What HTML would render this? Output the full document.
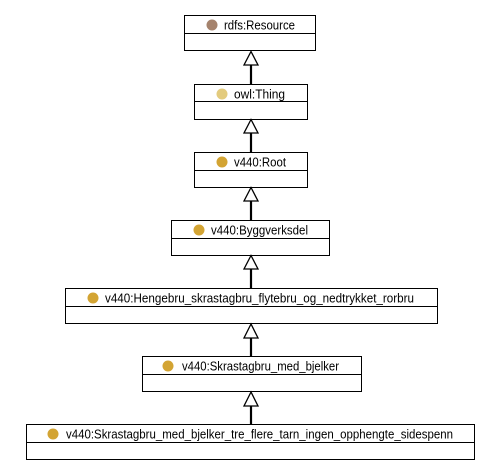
<!DOCTYPE html>
<html><head><meta charset="utf-8"><style>
html,body{margin:0;padding:0;background:#fff;width:494px;height:471px;overflow:hidden}
svg{display:block}
text{font-family:"Liberation Sans",sans-serif;font-size:12.5px;fill:#000}
</style></head><body>
<svg width="494" height="471" viewBox="0 0 494 471" xmlns="http://www.w3.org/2000/svg">
<g fill="#fff" stroke="#000" stroke-width="1">
<rect x="184.5" y="15.5" width="131" height="35"/><line x1="184.5" y1="33.5" x2="315.5" y2="33.5"/>
<rect x="194.5" y="84.5" width="113" height="35"/><line x1="194.5" y1="101.5" x2="307.5" y2="101.5"/>
<rect x="194.5" y="152.5" width="113" height="35"/><line x1="194.5" y1="170.5" x2="307.5" y2="170.5"/>
<rect x="171.5" y="220.5" width="158" height="35"/><line x1="171.5" y1="238.5" x2="329.5" y2="238.5"/>
<rect x="65.5" y="288.5" width="372" height="35"/><line x1="65.5" y1="306.5" x2="437.5" y2="306.5"/>
<rect x="142.5" y="356.5" width="219" height="35"/><line x1="142.5" y1="374.5" x2="361.5" y2="374.5"/>
<rect x="26.5" y="424.5" width="448" height="35"/><line x1="26.5" y1="442.5" x2="474.5" y2="442.5"/>
</g>
<g fill="#fff" stroke="#000" stroke-width="1.3">
<line x1="251" y1="84" x2="251" y2="65" stroke-width="2.2"/><polygon points="251,51.5 244,65 258,65"/>
<line x1="251" y1="152" x2="251" y2="133" stroke-width="2.2"/><polygon points="251,119.5 244,133 258,133"/>
<line x1="251" y1="220" x2="251" y2="201" stroke-width="2.2"/><polygon points="251,187.5 244,201 258,201"/>
<line x1="251" y1="288" x2="251" y2="269" stroke-width="2.2"/><polygon points="251,255.5 244,269 258,269"/>
<line x1="251" y1="356" x2="251" y2="338" stroke-width="2.2"/><polygon points="251,324 244,338 258,338"/>
<line x1="251" y1="424" x2="251" y2="406" stroke-width="2.2"/><polygon points="251,392 244,406 258,406"/>
</g>
<circle cx="212" cy="25" r="5.5" fill="#a5836d"/>
<circle cx="222" cy="94" r="5.5" fill="#e3cb7e"/>
<circle cx="222" cy="162" r="5.5" fill="#d3a433"/>
<circle cx="199" cy="230" r="5.5" fill="#d3a433"/>
<circle cx="93" cy="298" r="5.5" fill="#d3a433"/>
<circle cx="168" cy="366" r="5.5" fill="#d3a433"/>
<circle cx="53" cy="434" r="5.5" fill="#d3a433"/>
<text x="224" y="29.5" textLength="71" lengthAdjust="spacingAndGlyphs">rdfs:Resource</text>
<text x="234" y="98.5" textLength="51" lengthAdjust="spacingAndGlyphs">owl:Thing</text>
<text x="234" y="166.5" textLength="52" lengthAdjust="spacingAndGlyphs">v440:Root</text>
<text x="211" y="234.5" textLength="97" lengthAdjust="spacingAndGlyphs">v440:Byggverksdel</text>
<text x="105" y="302.5" textLength="309" lengthAdjust="spacingAndGlyphs">v440:Hengebru_skrastagbru_flytebru_og_nedtrykket_rorbru</text>
<text x="182" y="370.5" textLength="157" lengthAdjust="spacingAndGlyphs">v440:Skrastagbru_med_bjelker</text>
<text x="66" y="438.5" textLength="387" lengthAdjust="spacingAndGlyphs">v440:Skrastagbru_med_bjelker_tre_flere_tarn_ingen_opphengte_sidespenn</text>
</svg>
</body></html>
